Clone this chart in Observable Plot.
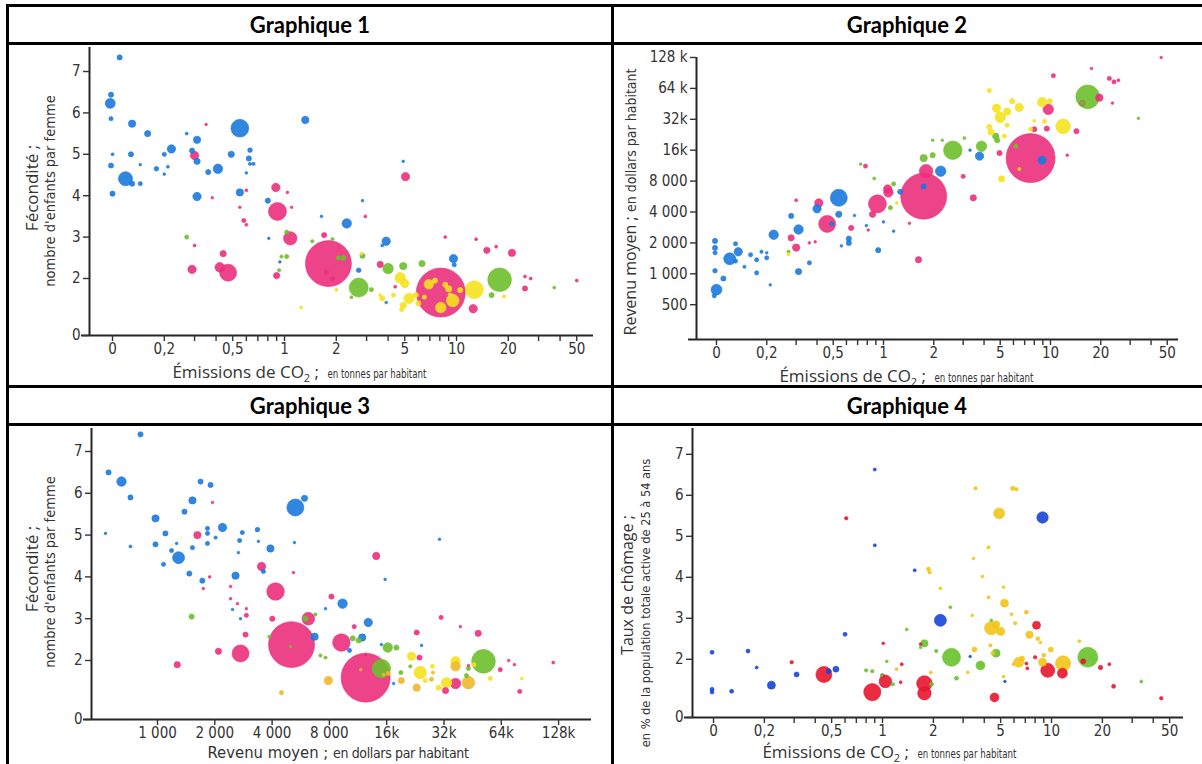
<!DOCTYPE html>
<html><head><meta charset="utf-8">
<script src="https://cdn.jsdelivr.net/npm/d3@7"></script>
<script src="https://cdn.jsdelivr.net/npm/@observablehq/plot@0.6"></script>
<style>
html,body{margin:0;padding:0;background:#fff;}
#page{position:relative;width:1202px;height:764px;overflow:hidden;background:#fff;}
.hl{position:absolute;background:#000;height:3px;z-index:5;}
.vl{position:absolute;background:#000;width:3px;z-index:5;}
.hdr{position:absolute;font-family:Lato,"Open Sans",sans-serif;font-weight:700;font-size:22px;color:#000;transform:translate(-50%,-50%);white-space:nowrap;}
.panel{position:absolute;}
.t{position:absolute;white-space:nowrap;color:#333;font-family:"Open Sans",sans-serif;font-size:17px;line-height:1;transform:translate(-50%,-50%);z-index:3;}
.t.rot{transform:translate(-50%,-50%) rotate(-90deg);}
.n{display:inline-block;font-family:"Liberation Sans Narrow","Arial Narrow","DejaVu Sans Condensed",sans-serif;font-size:12px;transform:scaleX(0.8);transform-origin:0 50%;margin-right:-22px;}
.n14{font-family:"Liberation Sans Narrow","Arial Narrow","DejaVu Sans Condensed",sans-serif;font-size:14.5px;}
sub{font-size:11px;vertical-align:-4px;line-height:0;}
</style>
</head><body>
<div id="page">
  <div class="hl" style="left:6px;top:4px;width:1196px"></div>
  <div class="hl" style="left:6px;top:42px;width:1196px"></div>
  <div class="hl" style="left:6px;top:385px;width:1196px"></div>
  <div class="hl" style="left:6px;top:423px;width:1196px"></div>
  <div class="vl" style="left:6px;top:4px;height:760px"></div>
  <div class="vl" style="left:611px;top:4px;height:760px"></div>

  <div class="hdr" style="left:310px;top:24px">Graphique 1</div>
  <div class="hdr" style="left:907px;top:24px">Graphique 2</div>
  <div class="hdr" style="left:310px;top:405px">Graphique 3</div>
  <div class="hdr" style="left:907px;top:405px">Graphique 4</div>

  <div id="p1" class="panel" style="left:7px;top:43px"></div>
  <div id="p2" class="panel" style="left:612px;top:43px"></div>
  <div id="p3" class="panel" style="left:7px;top:424px"></div>
  <div id="p4" class="panel" style="left:612px;top:424px"></div>

  <div class="t" style="left:301px;top:371px">Émissions de CO<sub>2</sub> ;&nbsp; <span class="n">en tonnes par habitant</span></div>
  <div class="t" style="left:908px;top:375px">Émissions de CO<sub>2</sub> ;&nbsp; <span class="n">en tonnes par habitant</span></div>
  <div class="t n14" style="left:338px;top:753px;font-size:16.5px">Revenu moyen ; <span style="font-size:14px;letter-spacing:-0.35px">en dollars par habitant</span></div>
  <div class="t" style="left:891px;top:751px">Émissions de CO<sub>2</sub> ;&nbsp; <span class="n">en tonnes par habitant</span></div>

  <div class="t rot" style="left:31px;top:188px">Fécondité ;</div>
  <div class="t rot n14" style="left:50px;top:191px">nombre d'enfants par femme</div>
  <div class="t rot" style="left:31px;top:569px">Fécondité ;</div>
  <div class="t rot n14" style="left:50px;top:572px">nombre d'enfants par femme</div>
  <div class="t rot" style="left:630px;top:202px;font-size:16px">Revenu moyen ; <span class="n14" style="font-size:14px">en dollars par habitant</span></div>
  <div class="t rot" style="left:627px;top:585px;font-size:16px">Taux de chômage ;</div>
  <div class="t rot n14" style="left:646px;top:603px;font-size:12.7px">en % de la population totale active de 25 à 54 ans</div>
</div>
<script>
// ---------- ticks & labels ----------
const co2Ticks = [0.1, 0.2, 0.5, 1, 2, 5, 10, 20, 50];
const co2Labels = ["0", "0,2", "0,5", "1", "2", "5", "10", "20", "50"];
const co2Minor = [0.3, 0.4, 0.6, 0.7, 0.8, 0.9, 3, 4, 6, 7, 8, 9, 30, 40];
const fertTicks = [0, 2, 3, 4, 5, 6, 7];
const fertLabels = ["0", "2", "3", "4", "5", "6", "7"];
const incomeTicksY = [500, 1000, 2000, 4000, 8000, 16000, 32000, 64000, 128000];
const incomeLabelsY = ["500", "1 000", "2 000", "4 000", "8 000", "16k", "32k", "64 k", "128 k"];
const incomeTicksX = [1000, 2000, 4000, 8000, 16000, 32000, 64000, 128000];
const incomeLabelsX = ["1 000", "2 000", "4 000", "8 000", "16k", "32k", "64k", "128k"];
const unempTicks = [0, 2, 3, 4, 5, 6, 7];
const unempLabels = ["0", "2", "3", "4", "5", "6", "7"];

// ---------- régions ----------
const regions = ["A", "S", "M", "E", "O"]; // Afrique, Asie, Amériques, Europe, Europe (orangé)
const colors123 = ["#1b79dd", "#eb2f7c", "#6dbf2c", "#f6e21f", "#f0b82b"];
const colors4 = ["#1744d8", "#e8152f", "#68c22c", "#f2c51b", "#f2c51b"];

// ---------- Graphique 1 : CO2 (t/hab) vs fécondité ; [co2, fécondité, population (M), région]
const g1 = [
 [0.11,7.34,15,"A"],[0.098,6.44,15,"A"],[0.097,6.23,55,"A"],[0.098,5.86,10,"A"],[0.13,5.74,30,"A"],[0.16,5.5,22,"A"],[0.27,5.5,5,"A"],[0.55,5.63,175,"A"],[1.32,5.83,30,"A"],[0.31,5.35,30,"A"],[0.22,5.13,39,"A"],[0.2,5.0,10,"A"],[0.29,5.09,15,"A"],[0.31,4.83,22,"A"],[0.1,5.0,5,"A"],[0.128,5.0,15,"A"],[0.098,4.73,15,"A"],[0.119,4.41,110,"A"],[0.13,4.29,15,"A"],[0.145,4.29,10,"A"],[0.145,4.75,4,"A"],[0.18,4.65,12,"A"],[0.2,4.52,4,"A"],[0.21,4.7,5,"A"],[0.49,5.0,22,"A"],[0.41,4.65,50,"A"],[0.36,4.57,15,"A"],[0.63,5.1,12,"A"],[0.62,4.9,15,"A"],[0.63,4.77,6,"A"],[0.66,4.77,6,"A"],[0.6,4.55,4,"A"],[0.55,4.08,30,"A"],[0.31,3.98,39,"A"],[0.8,3.88,15,"A"],[0.1,4.05,15,"A"],[4.9,4.83,4,"A"],[2.84,3.88,4,"A"],[1.64,3.5,4,"A"],[2.3,3.33,50,"A"],[3.9,2.9,39,"A"],[9.6,2.48,39,"A"],[9.7,2.33,10,"A"],[3.7,2.8,5,"A"],[2.7,2.2,12,"A"],[0.81,2.97,4,"A"],[0.94,2.4,4,"A"],[3.9,1.42,4,"A"],
 [0.30,4.97,39,"S"],[0.35,5.72,4,"S"],[0.89,4.2,39,"S"],[0.6,4.13,5,"S"],[1.04,4.08,4,"S"],[5.05,4.46,39,"S"],[0.38,3.95,4,"S"],[0.91,3.62,180,"S"],[1.08,2.97,100,"S"],[1.8,2.36,1170,"S"],[0.47,2.14,160,"S"],[0.42,2.27,50,"S"],[0.29,2.22,39,"S"],[0.44,2.6,22,"S"],[0.3,2.8,5,"S"],[0.55,3.72,4,"S"],[0.58,3.4,10,"S"],[0.6,3.3,5,"S"],[1.1,3.72,4,"S"],[0.9,2.07,22,"S"],[1.7,3.05,15,"S"],[2.95,3.5,5,"S"],[3.6,2.34,22,"S"],[8.6,3.0,5,"S"],[13,2.95,5,"S"],[15,2.68,22,"S"],[17,2.77,5,"S"],[21,2.62,30,"S"],[25,2.05,5,"S"],[27,2.0,5,"S"],[25,1.76,15,"S"],[50,1.95,5,"S"],[12.5,1.27,39,"S"],[8.1,1.66,1330,"S"],[4.4,1.8,5,"S"],[1.9,2.0,10,"S"],[1.75,2.15,10,"S"],
 [2.7,1.78,200,"M"],[17.8,1.97,310,"M"],[4.0,2.24,61,"M"],[4.9,2.3,30,"M"],[6.3,2.36,22,"M"],[2.2,2.5,15,"M"],[1.03,2.53,10,"M"],[0.96,2.53,6,"M"],[0.93,2.2,6,"M"],[0.27,3.0,10,"M"],[1.03,3.12,10,"M"],[3.2,1.73,10,"M"],[2.84,2.55,15,"M"],[16,1.6,15,"M"],[37,1.78,5,"M"],[2.45,1.55,5,"M"],[1.9,2.95,6,"M"],[2.05,2.5,10,"M"],[1.45,2.9,6,"M"],
 [12.7,1.73,180,"E"],[9.5,1.47,88,"E"],[8.1,1.3,61,"E"],[6.9,1.86,50,"E"],[4.7,2.02,61,"E"],[5.0,1.88,39,"E"],[5.3,1.52,61,"E"],[4.9,1.35,22,"E"],[4.8,1.25,10,"E"],[3.7,1.52,15,"E"],[4.3,1.6,10,"E"],[9.0,1.75,22,"E"],[10.5,1.72,15,"E"],[6.0,1.4,15,"E"],[5.8,1.6,15,"E"],[18.9,1.57,6,"E"],[1.25,1.3,5,"E"],[2.0,1.73,5,"E"],[7.5,1.95,15,"E"],[8.6,1.85,15,"E"],[6.5,1.55,10,"E"],[9.2,1.6,10,"E"],[3.6,1.6,5,"E"],[2.8,2.6,5,"E"]
];

// ---------- Graphique 2 : CO2 vs revenu moyen ($/hab) ; [co2, revenu, population, région]
const g2 = [
 [46,128000,4,"S"],[17.6,100000,4,"S"],[10.4,85000,10,"S"],[22.5,80000,10,"S"],[24,74000,10,"S"],[25.5,77000,5,"S"],[23.5,46000,4,"S"],[19.6,52000,30,"S"],[15.5,46000,15,"S"],[9.7,40000,61,"S"],[14.3,24500,15,"S"],[9.5,26000,15,"S"],[8,25600,15,"S"],[4.95,15000,15,"S"],[7.6,13400,1330,"S"],[12.6,14300,4,"S"],[3.0,8900,10,"S"],[3.45,5500,22,"S"],[1.74,5700,1170,"S"],[1.8,10000,100,"S"],[0.78,11200,10,"S"],[1.06,6700,39,"S"],[0.92,4800,180,"S"],[0.86,3800,22,"S"],[0.41,4900,39,"S"],[0.3,5200,5,"S"],[0.46,3060,160,"S"],[0.64,2800,15,"S"],[0.28,2240,22,"S"],[0.3,1800,30,"S"],[1.62,1370,22,"S"],[0.36,2000,4,"S"],[0.39,2050,4,"S"],[0.81,2670,4,"S"],[1.43,3100,4,"S"],[1.07,6200,50,"S"],
 [16.7,53000,310,"M"],[33.6,32700,4,"M"],[4.7,21900,22,"M"],[4.8,20000,15,"M"],[3.86,17500,61,"M"],[2.6,16000,190,"M"],[1.97,14300,15,"M"],[1.74,13400,30,"M"],[1.97,20000,4,"M"],[2.25,20000,4,"M"],[3.05,21000,5,"M"],[0.73,11700,4,"M"],[0.88,8500,5,"M"],[1.15,7500,10,"M"],[1.1,4400,10,"M"],[0.27,1640,6,"M"],[6.2,17500,10,"M"],[15.5,46000,10,"M"],
 [4.3,61000,10,"E"],[8.9,47000,50,"E"],[9.9,48000,15,"E"],[6.5,41700,39,"E"],[5.9,48000,15,"E"],[4.75,41000,39,"E"],[5.0,33500,61,"E"],[5.5,38000,30,"E"],[11.9,27300,120,"E"],[9.2,30600,10,"E"],[7.6,25600,10,"E"],[4.3,27000,15,"E"],[4.4,24000,22,"E"],[5.3,22000,10,"E"],[5.5,28000,10,"E"],[5.1,8400,22,"E"],[6.5,10500,5,"E"],[8.0,31000,5,"E"],[1.2,4900,5,"E"],[0.27,1550,6,"E"],
 [3.76,14000,39,"A"],[8.9,12800,39,"A"],[2.2,10000,61,"A"],[1.74,7100,15,"A"],[3.3,16000,4,"A"],[1.26,6300,15,"A"],[0.54,5500,160,"A"],[0.4,4300,39,"A"],[0.54,3800,22,"A"],[0.49,3060,10,"A"],[0.67,3700,4,"A"],[0.62,2200,15,"A"],[0.62,2000,15,"A"],[0.56,1870,4,"A"],[0.79,2950,4,"A"],[1.0,3200,4,"A"],[1.15,2600,4,"A"],[0.93,1700,15,"A"],[0.31,2700,50,"A"],[0.28,3660,15,"A"],[0.31,1050,22,"A"],[0.36,1280,10,"A"],[0.22,2400,50,"A"],[0.2,1430,10,"A"],[0.2,1600,4,"A"],[0.21,780,4,"A"],[0.186,1640,6,"A"],[0.174,1370,10,"A"],[0.16,1530,10,"A"],[0.174,1020,10,"A"],[0.147,1170,6,"A"],[0.13,1960,10,"A"],[0.135,1640,39,"A"],[0.12,1400,80,"A"],[0.13,1330,10,"A"],[0.098,2090,15,"A"],[0.098,1790,15,"A"],[0.098,1600,10,"A"],[0.098,1070,12,"A"],[0.11,900,15,"A"],[0.1,700,65,"A"],[0.097,610,10,"A"]
];

// ---------- Graphique 3 : revenu moyen vs fécondité ; [revenu, fécondité, population, région]
const g3 = [
 [814,7.41,15,"A"],[553,6.5,15,"A"],[647,6.28,50,"A"],[721,5.9,15,"A"],[533,5.04,4,"A"],[721,4.73,5,"A"],[976,5.4,30,"A"],[1100,5.04,15,"A"],[976,4.78,15,"A"],[1075,4.3,10,"A"],[1290,4.46,80,"A"],[1185,4.63,10,"A"],[1260,4.8,4,"A"],[1386,5.56,15,"A"],[1526,5.83,30,"A"],[1683,6.28,15,"A"],[1900,6.2,15,"A"],[1526,4.7,10,"A"],[1830,5.16,10,"A"],[1830,5.04,10,"A"],[1830,4.8,10,"A"],[2020,4.94,6,"A"],[2195,5.18,39,"A"],[2700,4.87,10,"A"],[2790,5.06,10,"A"],[3350,5.13,12,"A"],[3390,4.85,4,"A"],[3920,4.68,30,"A"],[2660,4.58,4,"A"],[2570,4.03,30,"A"],[1470,4.08,15,"A"],[1720,3.91,15,"A"],[3600,4.13,10,"A"],[5240,4.82,4,"A"],[5300,5.66,160,"A"],[5920,5.88,22,"A"],[30300,4.9,4,"A"],[9380,3.36,50,"A"],[12800,2.91,39,"A"],[6690,2.57,30,"A"],[11900,2.55,30,"A"],[10200,2.24,10,"A"],[15000,2.38,4,"A"],[15700,3.94,4,"A"],[2480,3.22,4,"A"],[2730,3.0,4,"A"],[17400,1.45,4,"A"],[24400,2.36,4,"A"],[7630,3.24,4,"A"],
 [1620,5.0,30,"S"],[1945,5.78,4,"S"],[3520,4.25,39,"S"],[5180,4.1,4,"S"],[14100,4.5,30,"S"],[4170,3.65,170,"S"],[6200,3.0,90,"S"],[5060,2.38,1170,"S"],[2730,2.17,160,"S"],[2090,2.22,22,"S"],[2900,2.62,15,"S"],[4010,3.0,15,"S"],[1270,1.9,22,"S"],[2420,3.77,4,"S"],[2420,3.48,4,"S"],[2630,3.36,4,"S"],[2930,3.24,4,"S"],[2930,3.08,10,"S"],[1740,3.72,4,"S"],[1880,4.0,4,"S"],[8200,3.53,15,"S"],[9250,2.43,170,"S"],[10800,2.81,10,"S"],[12400,2.14,4,"S"],[12400,1.59,1330,"S"],[23000,2.67,15,"S"],[23800,2.07,15,"S"],[30900,3.03,10,"S"],[39000,2.81,4,"S"],[48400,2.65,22,"S"],[32600,1.28,22,"S"],[36800,1.45,61,"S"],[43000,1.88,4,"S"],[63200,1.78,10,"S"],[70000,2.0,4,"S"],[75000,1.9,4,"S"],[80000,1.26,10,"S"],[120000,1.95,5,"S"],
 [1510,3.05,15,"M"],[5990,3.0,15,"M"],[6750,3.1,6,"M"],[10600,2.53,15,"M"],[11400,2.48,15,"M"],[16200,2.31,50,"M"],[18000,2.31,15,"M"],[15000,1.81,190,"M"],[51600,1.98,310,"M"],[43000,1.81,10,"M"],[19000,1.71,10,"M"],[7180,2.12,6,"M"],[7630,2.07,6,"M"],[3870,2.57,6,"M"],[42000,1.64,10,"M"],[21300,1.86,6,"M"],[5000,2.33,4,"M"],
 [21600,2.1,39,"E"],[24000,1.71,88,"E"],[36800,1.98,50,"E"],[33000,1.47,61,"E"],[30000,1.35,15,"E"],[56000,1.57,10,"E"],[82000,1.57,5,"E"],[46000,1.9,10,"E"],[27800,1.86,10,"E"],[25500,1.52,10,"E"],
 [23000,1.35,30,"O"],[36800,1.86,50,"O"],[43000,1.47,88,"O"],[19100,1.52,22,"O"],[7900,1.52,39,"O"],[4480,1.23,10,"O"],[27500,1.55,10,"O"],[28000,1.71,6,"O"],[16300,1.69,10,"O"],[15400,1.66,6,"O"],[11700,1.78,4,"O"]
];

// ---------- Graphique 4 : CO2 vs taux de chômage (%) ; [co2, chômage, effectif, région]
const g4 = [
 [0.9,6.63,7,"A"],[8.85,5.46,97,"A"],[0.9,4.78,7,"A"],[1.55,4.17,7,"A"],[2.2,2.95,108,"A"],[0.6,2.61,12,"A"],[0.098,2.17,12,"A"],[0.16,2.2,12,"A"],[0.18,1.8,7,"A"],[0.31,1.63,19,"A"],[0.22,1.37,48,"A"],[0.098,1.27,12,"A"],[0.098,1.2,12,"A"],[0.128,1.22,12,"A"],[0.48,1.71,19,"A"],[0.53,1.76,27,"A"],[3.3,2.07,5,"A"],[5.3,1.46,5,"A"],
 [0.61,5.44,9,"S"],[8.15,2.83,48,"S"],[1.01,2.39,6,"S"],[0.29,1.93,9,"S"],[0.45,1.63,192,"S"],[0.87,1.2,220,"S"],[1.04,1.46,120,"S"],[1.0,1.6,12,"S"],[1.3,1.88,7,"S"],[1.28,1.44,6,"S"],[1.77,1.41,180,"S"],[1.77,1.17,135,"S"],[1.68,2.37,6,"S"],[4.6,1.07,60,"S"],[9.5,1.73,147,"S"],[11.6,1.66,75,"S"],[7.1,1.9,7,"S"],[8.0,2.05,9,"S"],[15.4,1.95,19,"S"],[19.5,1.8,15,"S"],[22,1.88,7,"S"],[23.3,1.34,12,"S"],[44.6,1.05,9,"S"],[7.2,1.78,7,"S"],
 [3.55,6.17,9,"E"],[5.9,6.17,15,"E"],[6.2,6.15,9,"E"],[4.9,5.56,90,"E"],[4.24,4.73,9,"E"],[3.45,4.46,6,"E"],[1.87,4.2,12,"E"],[1.9,4.12,9,"E"],[3.9,4.02,6,"E"],[2.2,3.73,7,"E"],[4.24,3.51,7,"E"],[5.2,3.76,6,"E"],[5.27,3.37,48,"E"],[3.4,3.07,6,"E"],[5.8,3.1,7,"E"],[7.1,3.15,12,"E"],[6.1,2.88,9,"E"],[4.4,2.76,135,"E"],[4.7,2.85,40,"E"],[5.0,2.68,50,"E"],[7.4,2.6,40,"E"],[8.3,2.5,12,"E"],[8.6,2.41,7,"E"],[3.5,2.24,19,"E"],[4.35,2.34,9,"E"],[4.5,2.15,12,"E"],[6.4,1.93,75,"E"],[6.7,2.02,19,"E"],[8.85,1.93,48,"E"],[9.0,2.1,12,"E"],[9.9,2.24,19,"E"],[11.7,1.9,175,"E"],[14.6,2.44,7,"E"],[3.2,1.68,6,"E"],[5.2,1.58,7,"E"],[5.95,1.88,6,"E"],[1.93,1.68,7,"E"],[1.21,1.76,7,"E"],
 [2.52,3.27,7,"M"],[4.4,2.95,6,"M"],[1.39,2.73,6,"M"],[1.77,2.39,40,"M"],[1.68,2.29,6,"M"],[0.8,1.73,9,"M"],[0.87,1.71,9,"M"],[1.15,1.39,9,"M"],[1.06,1.95,6,"M"],[0.99,1.61,6,"M"],[1.95,1.39,12,"M"],[2.08,2.2,9,"M"],[2.56,2.05,243,"M"],[2.74,1.54,12,"M"],[3.8,1.85,60,"M"],[4.7,2.15,48,"M"],[16.4,2.05,300,"M"],[34,1.46,7,"M"]
];

const NARROW = '"Liberation Sans Narrow","Arial Narrow","DejaVu Sans Condensed",sans-serif';

function makeChart(o) {
  const rows = o.data.map(d => ({x: d[0], y: d[1], p: d[2], g: d[3]}));
  const blank = () => "";
  const marks = [
    Plot.dot(rows, {x: "x", y: "y", r: "p", fill: "g", stroke: "g", fillOpacity: 0.9, strokeWidth: 0.6}),
    Plot.ruleX([o.x.domain[0]], {stroke: "#262626", strokeWidth: 2}),
    Plot.ruleY([o.y.domain[0]], {stroke: "#262626", strokeWidth: 2, insetLeft: -8}),
    Plot.axisX(o.xTicks, {anchor: "bottom", tickSize: 6, tickFormat: blank, label: null, color: "#333", strokeWidth: 1.4}),
    Plot.axisY(o.yTicks, {anchor: "left", tickSize: 6, tickFormat: blank, label: null, color: "#333", strokeWidth: 1.4}),
    Plot.text(o.xTicks, {x: d => d, text: (d, i) => o.xLabels[i], frameAnchor: "bottom", lineAnchor: "top", dy: 8, fill: "#333"}),
    Plot.text(o.yTicks, {y: d => d, text: (d, i) => o.yLabels[i], frameAnchor: "left", textAnchor: "end", dx: -9, fill: "#333"})
  ];
  if (o.xMinor) marks.push(Plot.axisX(o.xMinor, {anchor: "bottom", tickSize: 6, tickFormat: blank, label: null, color: "#333", strokeWidth: 1.4}));
  return Plot.plot({
    width: o.width, height: o.height,
    marginTop: o.mt, marginBottom: o.mb, marginLeft: o.ml, marginRight: o.mr,
    style: {fontFamily: NARROW, fontSize: "15px", color: "#333", background: "transparent", overflow: "visible"},
    x: o.x, y: o.y,
    r: {domain: [0, o.rDomain], range: [0, o.rMax]},
    color: {domain: regions, range: o.colors},
    marks
  });
}

document.getElementById("p1").append(makeChart({
  data: g1, width: 605, height: 343, mt: 4, mb: 51, ml: 82, mr: 19,
  x: {type: "log", domain: [0.07349, 62.57]},
  y: {type: "linear", domain: [0, 1, 7.58], range: [292, 276.4, 4]},
  rDomain: 1330, rMax: 24.5, colors: colors123,
  xTicks: co2Ticks, xLabels: co2Labels, xMinor: co2Minor, yTicks: fertTicks, yLabels: fertLabels
}));
document.getElementById("p2").append(makeChart({
  data: g2, width: 590, height: 343, mt: 14, mb: 47, ml: 84, mr: 24,
  x: {type: "log", domain: [0.07592, 58.4]},
  y: {type: "log", domain: [229, 128000]},
  rDomain: 1330, rMax: 24.5, colors: colors123,
  xTicks: co2Ticks, xLabels: co2Labels, xMinor: co2Minor, yTicks: incomeTicksY, yLabels: incomeLabelsY
}));
document.getElementById("p3").append(makeChart({
  data: g3, width: 605, height: 340, mt: 4, mb: 45, ml: 84, mr: 21,
  x: {type: "log", domain: [450, 190600]},
  y: {type: "linear", domain: [0, 1, 7.55], range: [295, 277.8, 4]},
  rDomain: 1330, rMax: 24.5, colors: colors123,
  xTicks: incomeTicksX, xLabels: incomeLabelsX, yTicks: fertTicks, yLabels: fertLabels
}));
document.getElementById("p4").append(makeChart({
  data: g4, width: 590, height: 340, mt: 4, mb: 47, ml: 80, mr: 19,
  x: {type: "log", domain: [0.0751, 60.4]},
  y: {type: "linear", domain: [0, 1, 7.63], range: [293, 275.8, 4]},
  rDomain: 300, rMax: 10, colors: colors4,
  xTicks: co2Ticks, xLabels: co2Labels, xMinor: co2Minor, yTicks: unempTicks, yLabels: unempLabels
}));
</script>
</body></html>
